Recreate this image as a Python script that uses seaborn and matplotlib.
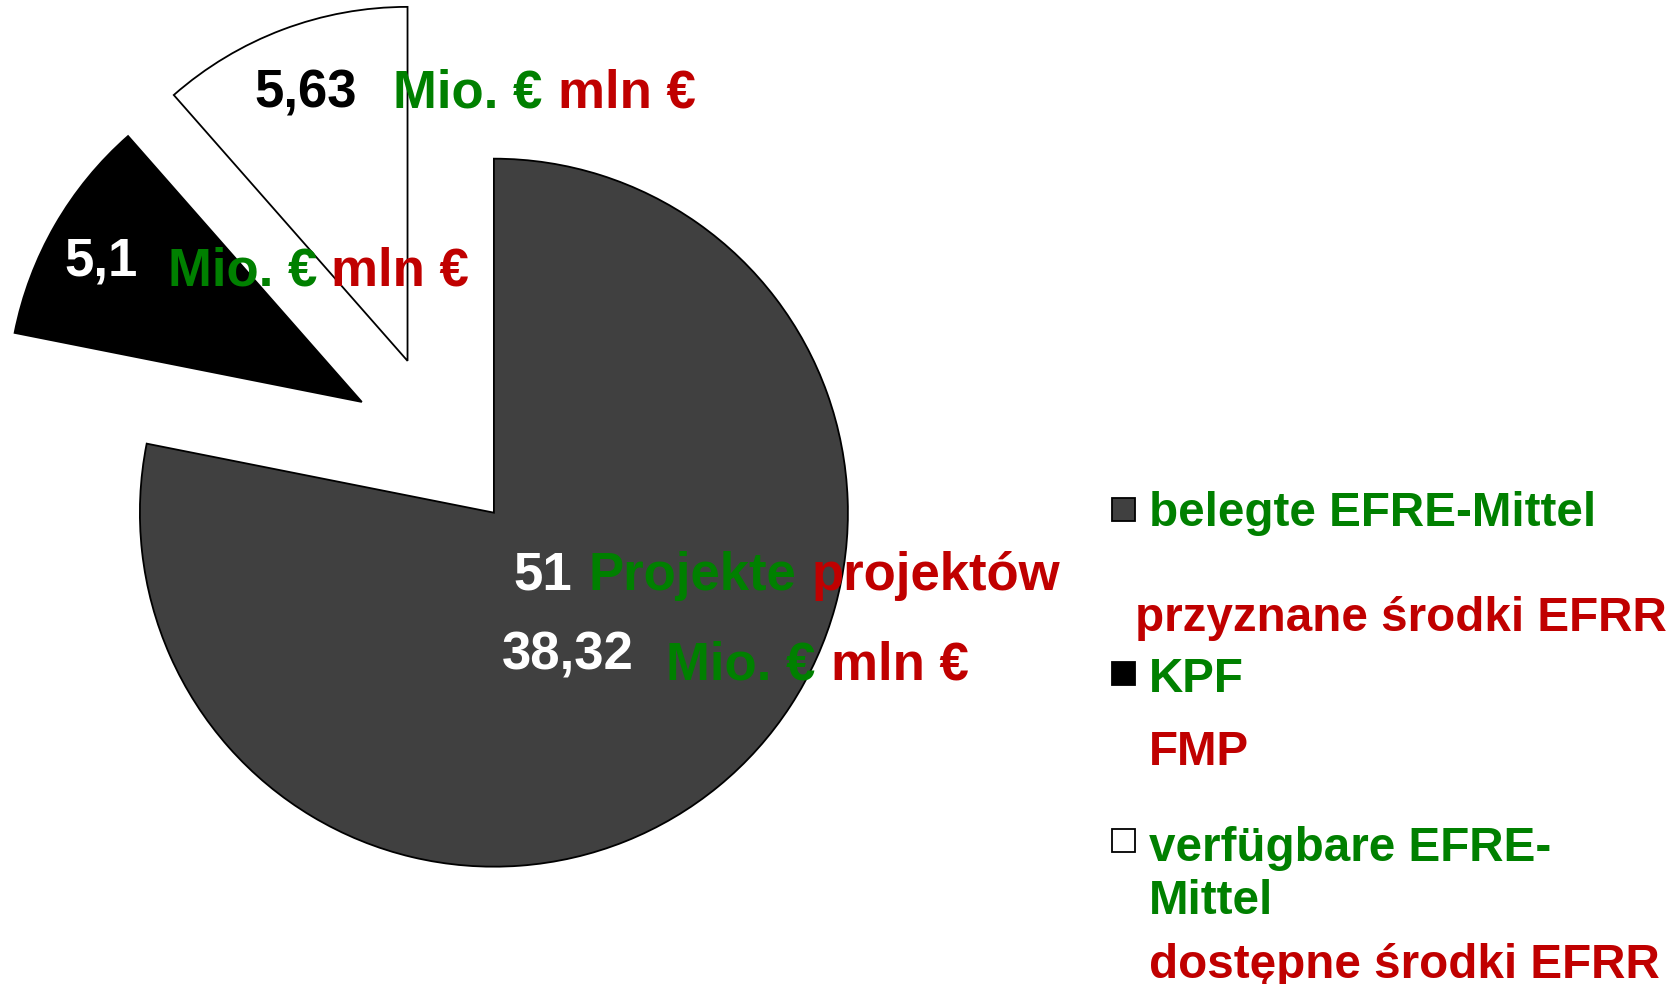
import matplotlib
matplotlib.use("Agg")
import matplotlib.pyplot as plt
import seaborn as sns
from matplotlib.patches import Rectangle

# ---- data ----
categories = ["belegte EFRE-Mittel", "KPF", "verfügbare EFRE-Mittel"]
values = [38.32, 5.1, 5.63]
value_labels = ["38,32", "5,1", "5,63"]
slice_colors = ["#404040", "#000000", "#ffffff"]
explode = [0.24, 0.255, 0.26]
legend_de = ["belegte EFRE-Mittel", "KPF", "verfügbare EFRE-\nMittel"]
legend_pl = ["przyznane środki EFRR", "FMP", "dostępne środki EFRR"]
projects_count = "51"
unit_de = "Mio. €"
unit_pl = "mln €"
proj_de = "Projekte"
proj_pl = "projektów"

GREEN = "#008000"
RED = "#C00000"

sns.set_theme(style="white")
plt.rcParams['font.family'] = ['Liberation Sans', 'DejaVu Sans']

W, H = 1676, 984
fig = plt.figure(figsize=(W / 100, H / 100), dpi=100)
ax = fig.add_axes([0, 0, 1, 1])
ax.pie(values, colors=slice_colors, startangle=90, counterclock=False,
       explode=explode, radius=1,
       wedgeprops=dict(edgecolor='black', linewidth=1.3))
cx, cy, R = 440, 447, 354
ax.set_xlim(-cx / R, (W - cx) / R)
ax.set_ylim(-(H - cy) / R, cy / R)
ax.set_aspect('auto')
ax.axis('off')

LS = 38     # label size
GS = 34.3   # legend size


def T(x, y, s, color, size):
    fig.text(x / W, 1 - y / H, s, color=color, fontsize=size,
             fontweight='bold', va='baseline', ha='left')


# data labels
# white slice
T(254, 108, value_labels[2], "black", LS)
T(393, 108, unit_de, GREEN, LS)
T(558, 108, unit_pl, RED, LS)
# black slice
T(64, 276, value_labels[1], "white", LS)
T(168, 286, unit_de, GREEN, LS)
T(331, 286, unit_pl, RED, LS)
# gray slice
T(513, 590, projects_count, "white", LS)
T(588, 590, proj_de, GREEN, LS)
T(812, 590, proj_pl, RED, LS)
T(502, 670, value_labels[0], "white", LS)
T(666, 680, unit_de, GREEN, LS)
T(831, 680, unit_pl, RED, LS)

# legend
sq = 23
sq_x = 1112
sq_centers = [509, 673, 840]
for c, yc in zip(slice_colors, sq_centers):
    fig.patches.append(Rectangle((sq_x / W, 1 - (yc + sq / 2) / H), sq / W, sq / H,
                                 transform=fig.transFigure, facecolor=c,
                                 edgecolor='black', linewidth=1.3))

T(1149, 526, legend_de[0], GREEN, GS)
T(1135, 631, legend_pl[0], RED, GS)
T(1149, 692, legend_de[1], GREEN, GS)
T(1149, 765, legend_pl[1], RED, GS)
l1, l2 = legend_de[2].split("\n")
T(1149, 861, l1, GREEN, GS)
T(1149, 914, l2, GREEN, GS)
T(1149, 978, legend_pl[2], RED, GS)

fig.savefig("out.png", dpi=100)
